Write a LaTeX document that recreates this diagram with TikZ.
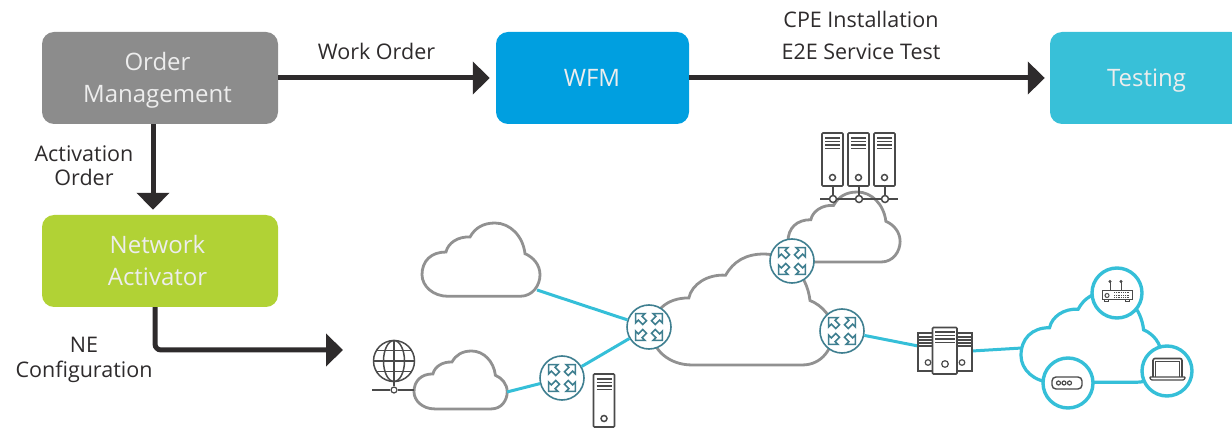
\documentclass[tikz,border=0pt]{standalone}
\usepackage{fontspec}
\setmainfont{Open Sans}
\usetikzlibrary{arrows.meta}

\definecolor{orderGray}{HTML}{8C8C8C}
\definecolor{wfmBlue}{HTML}{009FE0}
\definecolor{testCyan}{HTML}{38C0D8}
\definecolor{activatorGreen}{HTML}{B1D235}
\definecolor{arrowDark}{HTML}{2E2B2C}
\definecolor{cloudGray}{HTML}{919191}
\definecolor{linkCyan}{HTML}{35BFD8}
\definecolor{routerTeal}{HTML}{3F7F90}
\definecolor{iconDark}{HTML}{4A4A4A}

\tikzset{%
    stepbox/.style = {rounded corners = 12pt, minimum height = 92pt, inner sep = 0pt,
        align = center, text = white!93!black, font = \fontsize{24}{32}\selectfont},
    flowlabel/.style = {align = center, text = arrowDark, font = \fontsize{21.5}{24}\selectfont},
    flowarrow/.style = {draw = arrowDark, line width = 5pt, ->},
    greycloud/.style = {draw = cloudGray, fill = white, line width = 2.8pt},
    cyancloud/.style = {draw = linkCyan, fill = white, line width = 3.2pt},
    link/.style = {draw = linkCyan, line width = 3pt},
    routernode/.style = {circle, draw = routerTeal, fill = white, line width = 1.6pt,
        minimum size = 44pt, inner sep = 0pt},
    devicenode/.style = {circle, draw = linkCyan, fill = white, line width = 3.4pt,
        minimum size = 50pt, inner sep = 0pt},
    joint/.style = {circle, draw = iconDark, fill = white, line width = 1.5pt,
        minimum size = 7pt, inner sep = 0pt},
    icon/.style = {draw = iconDark, line width = 1.5pt},
    % Cloud outline, 118 wide and 73.3 high with its origin at the top left.
    cloudshape/.pic = {
        \path[pic actions] (26, 73.3) to (98, 73.3)
            .. controls (111, 73.3) and (118, 62) .. (118, 51.7)
            .. controls (118, 41.7) and (111, 34) .. (103, 30.7)
            .. controls (101, 13) and (88, 0) .. (73, 0)
            .. controls (61, 0) and (53, 5) .. (48, 14)
            .. controls (36, 13.3) and (26, 20) .. (24, 29)
            .. controls (9, 29) and (0, 38) .. (0, 51.7)
            .. controls (0, 63) and (11, 73.3) .. (26, 73.3) -- cycle;
    },
    % One hollow arrow of a router, pointing along x.
    routerarrow/.pic = {
        \draw[draw = routerTeal, line width = 1.6pt, line join = miter, fill = white]
            (6.2, -2.6) to (12.4, -2.6) to (12.4, -6.5) to (18.9, 0) to (12.4, 6.5)
            to (12.4, 2.6) to (6.2, 2.6) -- cycle;
    },
    routerarrows/.pic = {
        \pic[rotate = 45] {routerarrow};
        \pic[rotate = 135] {routerarrow};
        \pic[rotate = 225] {routerarrow};
        \pic[rotate = 315] {routerarrow};
    },
    % Tower server, 21 wide and 53 high with its origin at the top left.
    towerserver/.pic = {
        \draw[icon, rounded corners = 1pt, fill = white, line width = 1.7pt] (0, 0) rectangle (21, 53);
        \draw[icon] (3, 5) to (18, 5);
        \draw[icon] (3, 8.5) to (18, 8.5);
        \draw[icon] (3, 12) to (18, 12);
        \draw[icon] (3, 15.5) to (18, 15.5);
        \draw[icon] (10.5, 44.5) circle (3);
    }
}

\begin{document}
\begin{tikzpicture}[%
        x = 1pt,
        y = -1pt,
        line cap = butt,
        > = {Triangle[length = 17pt, width = 32pt]}
    ]
    \useasboundingbox (0, 0) rectangle (1232, 430);

    % The four process boxes.
    \node[stepbox, fill = orderGray, minimum width = 236pt] (order) at (160, 78) {};
    \node[stepbox, fill = wfmBlue, minimum width = 193pt] (wfm) at (592.5, 78) {};
    \node[stepbox, fill = testCyan, minimum width = 193pt] (testing) at (1146.5, 78) {};
    \node[stepbox, fill = activatorGreen, minimum width = 236pt] (activator) at (160, 261) {};
    \node[stepbox, minimum height = 0pt] (orderText) at (157.5, 80) {Order\\Management};
    \node[stepbox, minimum height = 0pt] (wfmText) at (592, 78) {WFM};
    \node[stepbox, minimum height = 0pt] (testingText) at (1146.5, 81) {Testing};
    \node[stepbox, minimum height = 0pt] (activatorText) at (157.5, 261) {Network\\Activator};

    % Labels next to the flow arrows.
    \node[flowlabel] (workLabel) at (376.5, 51) {Work Order};
    \node[flowlabel, font = \fontsize{21.5}{32}\selectfont] (testLabel) at (861, 35) {CPE Installation\\E2E Service Test};
    \node[flowlabel] (activationLabel) at (84, 166) {Activation\\Order};
    \node[flowlabel, font = \fontsize{21.5}{25}\selectfont] (configLabel) at (84, 360) {NE\\Configuration};

    % Flow arrows between the boxes.
    \coordinate (networkEntry) at (343, 350);
    \draw[flowarrow, shorten > = 6pt] (order.east) to (wfm.west);
    \draw[flowarrow, shorten > = 5pt] (wfm.east) to (testing.west);
    \draw[flowarrow, shorten > = 5pt] ([xshift = -7pt] order.south) to ([xshift = -7pt] activator.north);
    \draw[flowarrow, rounded corners = 6pt] ([xshift = -5pt] activator.south) |- (networkEntry);

    % Clouds of the network.
    \pic[greycloud, xscale = 1.0, yscale = 1.0] at (422, 223) {cloudshape};
    \pic[greycloud, xscale = 0.79, yscale = 0.79] at (414, 351) {cloudshape};
    \pic[greycloud, xscale = 0.95, yscale = 0.955] at (788, 192) {cloudshape};
    \pic[greycloud, xscale = 1.534, yscale = 1.514] at (652, 254) {cloudshape};
    \pic[cyancloud, xscale = 1.19, yscale = 1.23] at (1021, 292) {cloudshape};

    % Routers and the devices at the customer site.
    \node[routernode] (routerA) at (649, 327) {};
    \node[routernode] (routerB) at (562, 378) {};
    \node[routernode] (routerC) at (792, 261) {};
    \node[routernode] (routerD) at (842, 331) {};
    \node[devicenode] (modemRing) at (1117, 293) {};
    \node[devicenode] (portRing) at (1068, 383) {};
    \node[devicenode] (laptopRing) at (1167, 371) {};

    % Cyan links, from cloud to router and on to the cluster.
    \coordinate (cloudAPort) at (537, 290);
    \coordinate (cloudBPort) at (507, 392);
    \coordinate (clusterIn) at (918, 346);
    \coordinate (clusterOut) at (972, 351);
    \coordinate (cloudEPort) at (1022, 348);
    \draw[link] (cloudAPort) to (routerA);
    \draw[link] (routerA) to (routerB);
    \draw[link] (routerB) to (cloudBPort);
    \draw[link] (routerD) to (clusterIn);
    \draw[link] (clusterOut) to (cloudEPort);

    % Arrows inside the routers.
    \pic at (routerA) {routerarrows};
    \pic at (routerB) {routerarrows};
    \pic at (routerC) {routerarrows};
    \pic at (routerD) {routerarrows};

    % Three servers on a bus above the upper cloud.
    \pic at (822, 133) {towerserver};
    \pic at (848, 133) {towerserver};
    \pic at (874, 133) {towerserver};
    \coordinate (busLeft) at (820, 199);
    \coordinate (busRight) at (898, 199);
    \coordinate (stemA) at (833, 186);
    \coordinate (stemB) at (859, 186);
    \coordinate (stemC) at (885, 186);
    \node[joint] (jointA) at (833, 199) {};
    \node[joint] (jointB) at (859, 199) {};
    \node[joint] (jointC) at (885, 199) {};
    \draw[icon, line width = 2pt] (busLeft) to (jointA);
    \draw[icon, line width = 2pt] (jointA) to (jointB);
    \draw[icon, line width = 2pt] (jointB) to (jointC);
    \draw[icon, line width = 2pt] (jointC) to (busRight);
    \draw[icon, line width = 2pt] (stemA) to (jointA);
    \draw[icon, line width = 2pt] (stemB) to (jointB);
    \draw[icon, line width = 2pt] (stemC) to (jointC);

    % Single server below the lower router.
    \pic at (593.5, 374) {towerserver};

    % Globe on its own bus, left of the lower cloud.
    \draw[icon] (394, 361) circle (20.5);
    \draw[icon] (394, 361) ellipse (10.5 and 20.5);
    \draw[icon] (394, 340.5) to (394, 381.5);
    \draw[icon] (373.5, 361) to (414.5, 361);
    \draw[icon] (376.5, 350.5) to (411.5, 350.5);
    \draw[icon] (376.5, 371.5) to (411.5, 371.5);
    \coordinate (globeBase) at (394, 381.5);
    \coordinate (globeBusLeft) at (372, 390);
    \coordinate (globeBusRight) at (414, 390);
    \node[joint, minimum size = 6pt, line width = 1.2pt] (globeJoint) at (394, 390) {};
    \draw[icon, line width = 1.2pt] (globeBusLeft) to (globeJoint);
    \draw[icon, line width = 1.2pt] (globeJoint) to (globeBusRight);
    \draw[icon, line width = 1.2pt] (globeBase) to (globeJoint);

    % Server cluster between the core cloud and the customer cloud.
    \draw[icon, fill = white, line width = 1.6pt] (918, 333) rectangle (972, 371);
    \draw[icon] (918, 337) to (972, 337);
    \draw[icon] (918, 340) to (972, 340);
    \draw[icon] (918, 343) to (972, 343);
    \draw[icon] (918, 346) to (972, 346);
    \draw[icon, line width = 1.2pt] (928, 362.5) circle (2.8);
    \draw[icon, line width = 1.2pt] (962, 362.5) circle (2.8);
    \draw[icon, fill = white, rounded corners = 1pt, line width = 1.6pt] (932.5, 327.5) rectangle (957, 374);
    \draw[icon] (935, 332) to (955, 332);
    \draw[icon] (935, 335.5) to (955, 335.5);
    \draw[icon] (935, 339) to (955, 339);
    \draw[icon] (935, 342.5) to (955, 342.5);
    \draw[icon, line width = 1.2pt] (945, 364) circle (3.3);

    % Wireless modem.
    \draw[icon, line width = 1pt] (1102, 291) rectangle (1132, 300);
    \draw[icon, line width = 1pt] (1110, 291) to (1110, 282);
    \draw[icon, line width = 1pt] (1121, 291) to (1121, 282);
    \draw[icon, fill = iconDark, line width = 0.5pt] (1110, 281.5) circle (1.2);
    \draw[icon, fill = iconDark, line width = 0.5pt] (1121, 281.5) circle (1.2);
    \draw[icon, line width = 1pt] (1107, 295.5) circle (2);
    \draw[icon, line width = 1pt] (1104, 300) to (1104, 302) to (1108, 302) to (1108, 300);
    \draw[icon, line width = 1pt] (1125, 300) to (1125, 302) to (1129, 302) to (1129, 300);
    \draw[icon, line width = 1pt, dash pattern = on 1pt off 0.8pt] (1114, 293) to (1129, 293);
    \draw[icon, line width = 1pt, dash pattern = on 1pt off 0.8pt] (1114, 295.5) to (1129, 295.5);
    \draw[icon, line width = 1pt, dash pattern = on 1pt off 0.8pt] (1114, 298) to (1129, 298);

    % Port box with three holes.
    \draw[icon, rounded corners = 4pt, line width = 1.4pt] (1052, 377) rectangle (1082, 389);
    \draw[icon, line width = 1.2pt] (1058.5, 383) circle (2);
    \draw[icon, line width = 1.2pt] (1064, 383) circle (2);
    \draw[icon, line width = 1.2pt] (1069.5, 383) circle (2);

    % Laptop.
    \draw[icon, rounded corners = 2pt, line width = 1.6pt] (1153, 377) to (1153, 358.5) to (1182, 358.5) to (1182, 377);
    \draw[icon, line width = 0.8pt] (1155.5, 377) to (1155.5, 361) to (1179.5, 361) to (1179.5, 377);
    \draw[icon, rounded corners = 1pt, line width = 1.3pt] (1149.5, 377) to (1185.5, 377) to (1184, 380) to (1151, 380) -- cycle;
\end{tikzpicture}
\end{document}
